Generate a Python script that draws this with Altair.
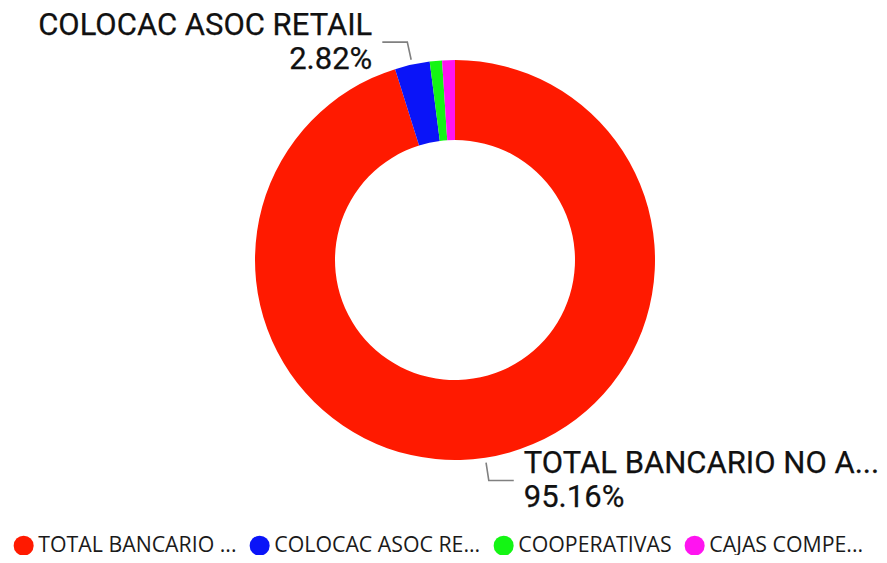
import math
import altair as alt
import pandas as pd

# ---- data ----
categories = ["TOTAL BANCARIO NO ASOCIADO", "COLOCAC ASOC RETAIL", "COOPERATIVAS", "CAJAS COMPENSACION"]
values = [95.16, 2.82, 0.99, 1.03]
legend_labels = ["TOTAL BANCARIO ...", "COLOCAC ASOC RE...", "COOPERATIVAS", "CAJAS COMPE..."]
slice_labels = ["TOTAL BANCARIO NO A...", "COLOCAC ASOC RETAIL", "", ""]
colors = ["#FF1A00", "#0A14F8", "#14F514", "#FF14F0"]

# ---- layout (pixels) ----
W, H = 871, 547
CX, CY = 447, 252
R_OUT, R_IN = 200, 120
R_LEAD0, R_LEAD1, LEAD_H, GAP = 205, 223, 25, 10

df = pd.DataFrame({"category": categories, "value": values, "order": list(range(len(values)))})

# leader lines and label anchors, derived from the data's cumulative angles
total = sum(values)
cum = 0.0
line_rows, text_rows = [], []
for i, (cat, v, lab) in enumerate(zip(categories, values, slice_labels)):
    mid = (cum + v / 2) / total * 2 * math.pi
    cum += v
    if not lab:
        continue
    s, c = math.sin(mid), math.cos(mid)
    side = 1 if s >= 0 else -1
    p0 = (CX + R_LEAD0 * s, CY - R_LEAD0 * c)
    p1 = (CX + R_LEAD1 * s, CY - R_LEAD1 * c)
    p2 = (p1[0] + side * LEAD_H, p1[1])
    for k, p in enumerate([p0, p1, p2]):
        line_rows.append({"category": cat, "seq": k, "px": p[0], "py": p[1]})
    text_rows.append({
        "category": cat,
        "tx": p2[0] + side * GAP,
        "ty": p2[1],
        "side": "right" if side > 0 else "left",
        "label": f"{lab}\n{v / total * 100:.2f}%",
    })

lines_df = pd.DataFrame(line_rows)
text_df = pd.DataFrame(text_rows)

label_expr = "[{}][indexof([{}], datum.label)]".format(
    ", ".join(f"'{l}'" for l in legend_labels),
    ", ".join(f"'{c}'" for c in categories),
)

donut = alt.Chart(df).mark_arc(outerRadius=R_OUT, innerRadius=R_IN).encode(
    theta=alt.Theta("value:Q", stack=True),
    order=alt.Order("order:Q"),
    color=alt.Color(
        "category:N",
        scale=alt.Scale(domain=categories, range=colors),
        sort=categories,
        legend=alt.Legend(
            title=None,
            orient="none",
            legendX=5,
            legendY=527,
            direction="horizontal",
            columns=4,
            symbolType="circle",
            symbolSize=400,
            symbolStrokeWidth=0,
            symbolOpacity=1,
            labelFont="Open Sans",
            labelFontSize=21.3,
            labelColor="#1a1a1a",
            labelOffset=4,
            labelLimit=400,
            columnPadding=12,
            padding=0,
            labelExpr=label_expr,
        ),
    ),
    x=alt.value(CX),
    y=alt.value(CY),
)

leaders = alt.Chart(lines_df).mark_line(color="#808080", strokeWidth=1.6).encode(
    x=alt.X("px:Q", scale=None, axis=None),
    y=alt.Y("py:Q", scale=None, axis=None),
    detail="category:N",
    order="seq:Q",
)

text_base = alt.Chart(text_df).encode(
    x=alt.X("tx:Q", scale=None, axis=None),
    y=alt.Y("ty:Q", scale=None, axis=None),
    text="label:N",
)
text_style = dict(baseline="middle", font="Roboto", fontSize=31, fontWeight="normal",
                  lineHeight=34, lineBreak="\n", color="#111111", stroke="#111111",
                  strokeWidth=0.25, dy=-16)
text_right = text_base.transform_filter(alt.datum.side == "right").mark_text(
    align="left", **text_style
)
text_left = text_base.transform_filter(alt.datum.side == "left").mark_text(
    align="right", **text_style
)

chart = alt.layer(donut, leaders, text_right, text_left).properties(
    width=W,
    height=H,
    padding=0,
    autosize=alt.AutoSizeParams(type="none"),
    background="white",
).configure_view(stroke=None)

chart.save("out.html", embed_options={"renderer": "svg", "actions": False})
